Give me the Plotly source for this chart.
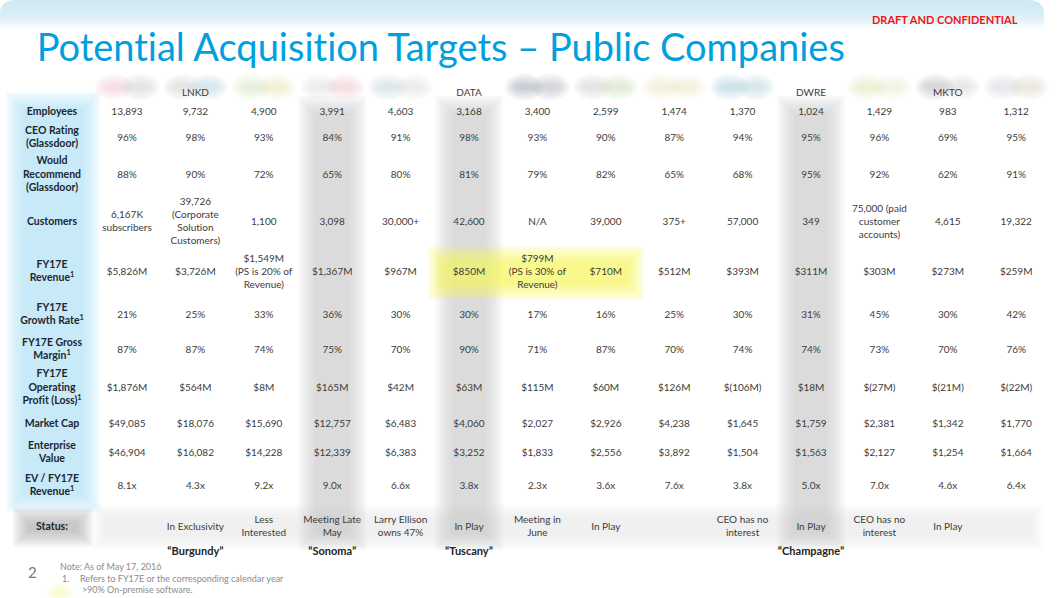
import plotly.graph_objects as go

W, H = 1062, 598

# ---- data -----------------------------------------------------------------
tickers = ["", "LNKD", "", "", "", "DATA", "", "", "", "", "DWRE", "", "MKTO", ""]

row_labels = [
    "Employees",
    "CEO Rating<br>(Glassdoor)",
    "Would<br>Recommend<br>(Glassdoor)",
    "Customers",
    "FY17E<br>Revenue<sup>1</sup>",
    "FY17E<br>Growth Rate<sup>1</sup>",
    "FY17E Gross<br>Margin<sup>1</sup>",
    "FY17E<br>Operating<br>Profit (Loss)<sup>1</sup>",
    "Market Cap",
    "Enterprise<br>Value",
    "EV / FY17E<br>Revenue<sup>1</sup>",
    "Status:",
]

employees = ["13,893", "9,732", "4,900", "3,991", "4,603", "3,168", "3,400",
             "2,599", "1,474", "1,370", "1,024", "1,429", "983", "1,312"]
ceo_rating = ["96%", "98%", "93%", "84%", "91%", "98%", "93%",
              "90%", "87%", "94%", "95%", "96%", "69%", "95%"]
would_recommend = ["88%", "90%", "72%", "65%", "80%", "81%", "79%",
                   "82%", "65%", "68%", "95%", "92%", "62%", "91%"]
customers = ["6,167K<br>subscribers", "39,726<br>(Corporate<br>Solution<br>Customers)",
             "1,100", "3,098", "30,000+", "42,600", "N/A", "39,000", "375+",
             "57,000", "349", "75,000 (paid<br>customer<br>accounts)", "4,615", "19,322"]
revenue = ["$5,826M", "$3,726M", "$1,549M<br>(PS is 20% of<br>Revenue)", "$1,367M",
           "$967M", "$850M", "$799M<br>(PS is 30% of<br>Revenue)", "$710M", "$512M",
           "$393M", "$311M", "$303M", "$273M", "$259M"]
growth = ["21%", "25%", "33%", "36%", "30%", "30%", "17%",
          "16%", "25%", "30%", "31%", "45%", "30%", "42%"]
gross_margin = ["87%", "87%", "74%", "75%", "70%", "90%", "71%",
                "87%", "70%", "74%", "74%", "73%", "70%", "76%"]
op_profit = ["$1,876M", "$564M", "$8M", "$165M", "$42M", "$63M", "$115M",
             "$60M", "$126M", "$(106M)", "$18M", "$(27M)", "$(21M)", "$(22M)"]
market_cap = ["$49,085", "$18,076", "$15,690", "$12,757", "$6,483", "$4,060", "$2,027",
              "$2,926", "$4,238", "$1,645", "$1,759", "$2,381", "$1,342", "$1,770"]
ent_value = ["$46,904", "$16,082", "$14,228", "$12,339", "$6,383", "$3,252", "$1,833",
             "$2,556", "$3,892", "$1,504", "$1,563", "$2,127", "$1,254", "$1,664"]
ev_rev = ["8.1x", "4.3x", "9.2x", "9.0x", "6.6x", "3.8x", "2.3x",
          "3.6x", "7.6x", "3.8x", "5.0x", "7.0x", "4.6x", "6.4x"]
status = ["", "In Exclusivity", "Less<br>Interested", "Meeting Late<br>May",
          "Larry Ellison<br>owns 47%", "In Play", "Meeting in<br>June", "In Play", "",
          "CEO has no<br>interest", "In Play", "CEO has no<br>interest", "In Play", ""]
codenames = ["", "\u201cBurgundy\u201d", "", "\u201cSonoma\u201d", "", "\u201cTuscany\u201d", "",
             "", "", "", "\u201cChampagne\u201d", "", "", ""]

table_rows = [employees, ceo_rating, would_recommend, customers, revenue, growth,
              gross_margin, op_profit, market_cap, ent_value, ev_rev, status]

# ---- layout constants (pixels) ----------------------------------------------
COL1, STEP = 127, 68.4          # centre of first data column, column pitch
LABEL_PX = 52
ROW_Y = [112, 138, 175, 222, 272, 315, 350, 388, 424, 453, 486, 527]
TICKER_Y, CODE_Y = 93, 552
cols = list(range(1, len(employees) + 1))


def col_px(i):
    return COL1 + STEP * (i - 1)


def px(x):
    return x / W


def py(y):
    return 1 - y / H


shapes = []


def soft(x0, x1, y0, y1, color, n=8, spread=2.5, alpha=0.12, kind="rect"):
    # stacked translucent shapes to fake a blurred edge
    for k in range(n):
        e = spread * (n / 2 - k)
        shapes.append(dict(type=kind, xref="paper", yref="paper",
                           x0=px(x0 - e), x1=px(x1 + e), y0=py(y1 + e), y1=py(y0 - e),
                           fillcolor=color, opacity=alpha, line_width=0, layer="below"))


# top banner (light blue fade with rounded corners)
for k in range(10):
    r = 16
    y1 = 5 + 2.6 * k
    x1 = 1044
    shapes.append(dict(type="path", xref="paper", yref="paper",
                       path=f"M {px(0)},{py(y1)} L {px(0)},{py(r)} "
                            f"Q {px(0)},{py(0)} {px(r)},{py(0)} "
                            f"L {px(x1 - r)},{py(0)} Q {px(x1)},{py(0)} {px(x1)},{py(r)} "
                            f"L {px(x1)},{py(y1)} Z",
                       fillcolor="rgb(200,230,244)", opacity=0.17, line_width=0, layer="below"))

# label column (blue) and status band
soft(16, 90, 102, 502, "rgb(175,225,247)", n=8, spread=2.5, alpha=0.14)
soft(100, 1035, 512, 542, "rgb(225,225,225)", n=6, spread=2.5, alpha=0.1)
soft(22, 84, 516, 538, "rgb(170,170,170)", n=7, spread=2.5, alpha=0.13)

# highlighted columns (gray)
for c in [4, 6, 11]:
    cx = col_px(c)
    soft(cx - 24, cx + 24, 106, 540, "rgb(195,195,195)", n=8, spread=2.5, alpha=0.1)

# yellow highlight
soft(438, 634, 256, 290, "rgb(248,248,90)", n=8, spread=2.5, alpha=0.14)
soft(52, 68, 587, 598, "rgb(250,250,150)", n=5, spread=2, alpha=0.1, kind="circle")

# blurred logo strip
logo_colors = [["rgb(235,180,185)", "rgb(190,190,190)"], ["rgb(190,190,190)", "rgb(150,195,215)"],
               ["rgb(205,220,170)", "rgb(225,225,160)"], ["rgb(215,215,215)", "rgb(235,180,185)"],
               ["rgb(180,200,215)", "rgb(210,210,210)"], [], ["rgb(120,135,150)", "rgb(150,160,170)"],
               ["rgb(190,190,190)", "rgb(190,210,160)"], ["rgb(235,225,180)", "rgb(235,225,180)"],
               ["rgb(130,190,210)", "rgb(150,200,215)"], [], ["rgb(215,225,160)", "rgb(225,230,185)"],
               ["rgb(150,150,150)", "rgb(200,200,200)"], ["rgb(200,205,210)", "rgb(215,200,180)"]]
for c, pair in zip(cols, logo_colors):
    cx = col_px(c)
    for j, colr in enumerate(pair):
        soft(cx - 26 + 26 * j, cx + 26 * j, 80, 94, colr, n=5, spread=2.5, alpha=0.09, kind="circle")

fig = go.Figure()

body_font = dict(family="Lato", size=10, color="rgb(60,60,60)")

for vals, y in zip(table_rows, ROW_Y):
    fig.add_trace(go.Scatter(x=cols, y=[y] * len(cols), text=vals, mode="text",
                             textposition="middle center", textfont=body_font,
                             hoverinfo="skip"))

fig.add_trace(go.Scatter(x=cols, y=[TICKER_Y] * len(cols), text=tickers, mode="text",
                         textposition="middle center", textfont=body_font, hoverinfo="skip"))
fig.add_trace(go.Scatter(x=cols, y=[CODE_Y] * len(cols), text=codenames, mode="text",
                         textposition="middle center",
                         textfont=dict(family="Lato", size=11, color="rgb(35,35,35)", weight="bold"),
                         hoverinfo="skip"))

label_x = 1 + (LABEL_PX - COL1) / STEP
fig.add_trace(go.Scatter(x=[label_x] * len(row_labels), y=ROW_Y, text=row_labels, mode="text",
                         textposition="middle center",
                         textfont=dict(family="Lato", size=10.5, color="rgb(30,38,48)", weight="bold"),
                         hoverinfo="skip"))

note_font = dict(family="Lato", size=9, color="rgb(140,140,140)")


def note(text, x, y, font=note_font, anchor="left"):
    return dict(text=text, x=px(x), y=py(y), xref="paper", yref="paper",
                xanchor=anchor, yanchor="middle", showarrow=False, font=font)


annotations = [
    note("Potential Acquisition Targets \u2013 Public Companies", 34, 46,
         dict(family="Lato", size=38, color="rgb(0,160,222)")),
    note("<b>DRAFT AND CONFIDENTIAL</b>", 1020, 20,
         dict(family="Lato", size=11, color="rgb(240,20,20)"), anchor="right"),
    note("2", 32, 572, dict(family="Lato", size=15, color="rgb(120,120,120)"), anchor="center"),
    note("Note: As of May 17, 2016", 58, 566),
    note("1.", 60, 578),
    note("Refers to FY17E or the corresponding calendar year", 78, 578),
    note(">90% On-premise software.", 80, 589),
]

fig.update_layout(
    width=W, height=H,
    margin=dict(l=0, r=0, t=0, b=0),
    paper_bgcolor="white", plot_bgcolor="rgba(0,0,0,0)",
    showlegend=False,
    xaxis=dict(range=[1 - COL1 / STEP, 1 + (W - COL1) / STEP], visible=False, fixedrange=True),
    yaxis=dict(range=[H, 0], visible=False, fixedrange=True),
    shapes=shapes,
    annotations=annotations,
)

# drop the page margin and Lato's "ti" ligatures
fig.write_html(
    "out.html", config={"displayModeBar": False},
    post_script="document.body.style.margin='0';"
                "var s=document.createElement('style');"
                "s.innerHTML='text{font-variant-ligatures:none;font-feature-settings:\"liga\" 0;}';"
                "document.head.appendChild(s);",
)
